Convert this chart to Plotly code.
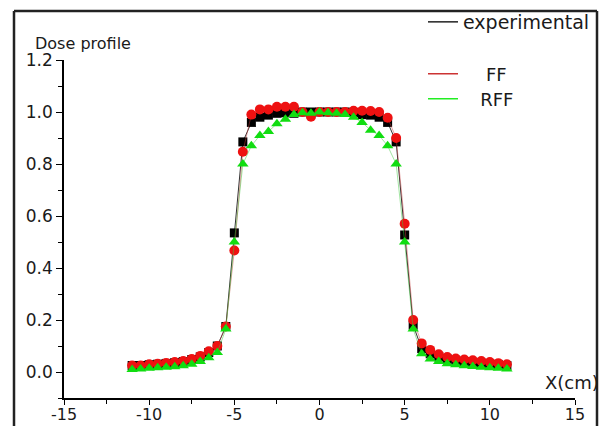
import plotly.graph_objects as go

x_cm = [-11, -10.5, -10, -9.5, -9, -8.5, -8, -7.5, -7, -6.5, -6, -5.5, -5, -4.5, -4, -3.5, -3, -2.5, -2, -1.5, -1, -0.5,
        0, 0.5, 1, 1.5, 2, 2.5, 3, 3.5, 4, 4.5, 5, 5.5, 6, 6.5, 7, 7.5, 8, 8.5, 9, 9.5, 10, 10.5, 11]

experimental = [0.025, 0.025, 0.028, 0.030, 0.033, 0.036, 0.040, 0.048, 0.058, 0.075, 0.100, 0.175, 0.535,
                0.885, 0.960, 0.980, 0.988, 0.995, 0.997, 0.995, 1.000, 1.000,
                1.000, 1.000, 1.000, 1.000, 0.998, 0.990, 0.988, 0.980, 0.960, 0.885,
                0.527, 0.180, 0.090, 0.070, 0.058, 0.050, 0.045, 0.040, 0.037, 0.034, 0.031, 0.028, 0.025]

ff = [0.025, 0.025, 0.030, 0.032, 0.035, 0.038, 0.042, 0.050, 0.062, 0.080, 0.100, 0.175, 0.467,
      0.847, 0.990, 1.010, 1.010, 1.020, 1.020, 1.020, 1.000, 0.982,
      1.000, 1.000, 1.000, 1.000, 1.005, 1.005, 1.004, 1.000, 0.978, 0.900,
      0.570, 0.200, 0.110, 0.085, 0.068, 0.058, 0.052, 0.048, 0.045, 0.042, 0.038, 0.034, 0.030]

rff = [0.010, 0.012, 0.014, 0.016, 0.018, 0.020, 0.024, 0.030, 0.040, 0.055, 0.075, 0.165, 0.500,
       0.800, 0.870, 0.910, 0.925, 0.955, 0.972, 0.990, 0.997, 0.995,
       1.000, 0.997, 0.995, 0.990, 0.980, 0.960, 0.930, 0.910, 0.870, 0.800,
       0.500, 0.165, 0.070, 0.050, 0.040, 0.032, 0.028, 0.024, 0.021, 0.018, 0.016, 0.014, 0.012]

x_ticks = [-15, -10, -5, 0, 5, 10, 15]
y_ticks = [0.0, 0.2, 0.4, 0.6, 0.8, 1.0, 1.2]
y_tick_text = ["0.0", "0.2", "0.4", "0.6", "0.8", "1.0", "1.2"]

FONT = "DejaVu Sans"
TXT = "#1a1a1a"

W, H = 606, 426
# paper = whole canvas


def px2x(px):
    return px / W


def py2y(py):
    return (H - py) / H


# plot area in pixels: left 64, right 575, top 60, bottom 398
x_domain = [px2x(64), px2x(575)]
y_domain = [py2y(398), py2y(60)]

fig = go.Figure()

fig.add_trace(go.Scatter(
    x=x_cm, y=experimental, mode="lines+markers", name="experimental",
    line=dict(color="#333333", width=1),
    marker=dict(symbol="square", size=9, color="black"),
    showlegend=False))
fig.add_trace(go.Scatter(
    x=x_cm, y=ff, mode="lines+markers", name="FF",
    line=dict(color="rgba(200,60,60,0.6)", width=0.8),
    marker=dict(symbol="circle", size=10, color="#ee1111"),
    showlegend=False))
fig.add_trace(go.Scatter(
    x=x_cm, y=rff, mode="lines+markers", name="RFF",
    line=dict(color="rgba(60,200,60,0.6)", width=0.8),
    marker=dict(symbol="triangle-up", size=10, color="#11dd11"),
    showlegend=False))

# legend-only entries (lines)
fig.add_trace(go.Scatter(x=[None], y=[None], mode="lines", name="experimental",
                         line=dict(color="#222222", width=1.5), legend="legend"))
fig.add_trace(go.Scatter(x=[None], y=[None], mode="lines", name="\u00a0\u00a0\u00a0\u00a0FF",
                         line=dict(color="#cc3333", width=1.5), legend="legend2"))
fig.add_trace(go.Scatter(x=[None], y=[None], mode="lines", name="\u00a0\u00a0\u00a0RFF",
                         line=dict(color="#22ee22", width=1.5), legend="legend3"))

leg_common = dict(xanchor="left", yanchor="middle", bgcolor="rgba(0,0,0,0)", itemwidth=30)

frame_line = dict(color="#222222", width=2.5)
FL, FR, FT = 14, 597, 11

fig.update_layout(
    width=W, height=H,
    margin=dict(l=0, r=0, t=0, b=0, pad=0, autoexpand=False),
    paper_bgcolor="white", plot_bgcolor="white",
    font=dict(family=FONT, size=16, color=TXT),
    legend=dict(x=px2x(423), y=py2y(22), font=dict(family=FONT, size=19, color=TXT), **leg_common),
    legend2=dict(x=px2x(423), y=py2y(74), font=dict(family=FONT, size=18, color=TXT), **leg_common),
    legend3=dict(x=px2x(423), y=py2y(99), font=dict(family=FONT, size=18, color=TXT), **leg_common),
    xaxis=dict(domain=x_domain, range=[-15, 15], tickvals=x_ticks, ticktext=[str(v) for v in x_ticks],
               automargin=False, ticklabelstandoff=-4,
               showgrid=False, zeroline=False, showline=True, linecolor="black", linewidth=1.5,
               ticks="outside", ticklen=5, tickwidth=1.2, tickcolor="black",
               minor=dict(dtick=2.5, tick0=-15, ticks="outside", ticklen=4, tickcolor="black", showgrid=False),
               tickfont=dict(family=FONT, size=16, color=TXT)),
    yaxis=dict(domain=y_domain, range=[-0.1, 1.2], tickvals=y_ticks, ticktext=y_tick_text,
               automargin=False,
               showgrid=False, zeroline=False, showline=True, linecolor="black", linewidth=1.5,
               ticks="outside", ticklen=6, tickwidth=1.2, tickcolor="black",
               minor=dict(dtick=0.1, tick0=0, ticks="outside", ticklen=4, tickcolor="black", showgrid=False),
               tickfont=dict(family=FONT, size=17, color=TXT)),
    annotations=[
        dict(text="Dose profile", xref="paper", yref="paper", x=px2x(33), y=py2y(43),
             xanchor="left", yanchor="middle", showarrow=False,
             font=dict(family=FONT, size=16, color=TXT)),
        dict(text="X(cm)", xref="paper", yref="paper", x=px2x(601), y=py2y(382),
             xanchor="right", yanchor="middle", showarrow=False,
             font=dict(family=FONT, size=18, color=TXT)),
    ],
    shapes=[
        dict(type="line", xref="paper", yref="paper", layer="above",
             x0=px2x(FL), x1=px2x(FL), y0=0, y1=py2y(FT), line=frame_line),
        dict(type="line", xref="paper", yref="paper", layer="above",
             x0=px2x(FL), x1=px2x(FR), y0=py2y(FT), y1=py2y(FT), line=frame_line),
        dict(type="line", xref="paper", yref="paper", layer="above",
             x0=px2x(FR), x1=px2x(FR), y0=0, y1=py2y(FT), line=frame_line),
    ],
)

fig.write_html("out.html")
